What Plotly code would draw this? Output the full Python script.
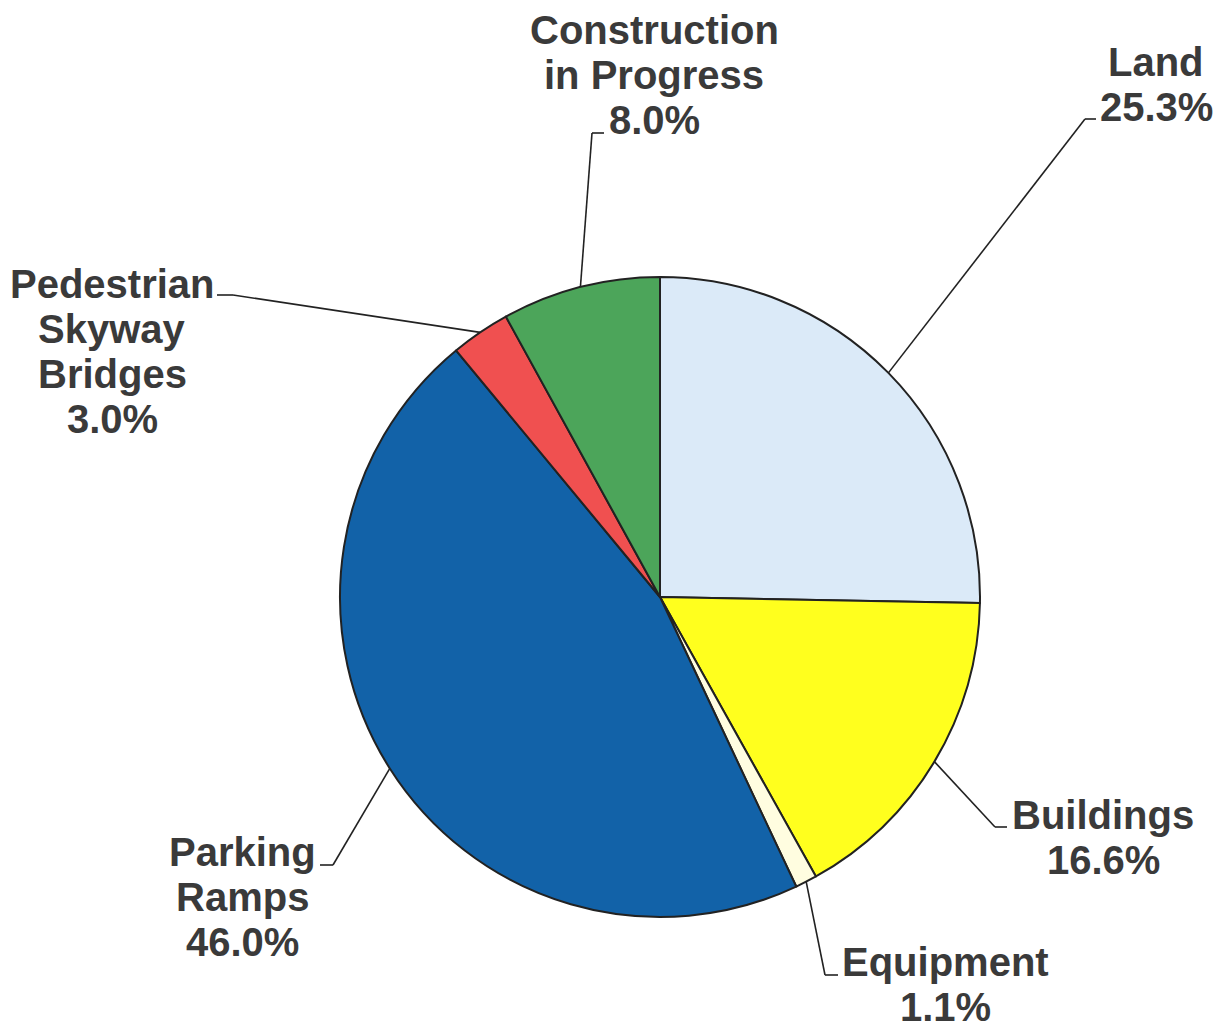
import math
import plotly.graph_objects as go

# ---------------- data ----------------
categories = ["Land", "Buildings", "Equipment", "Parking Ramps",
              "Pedestrian Skyway Bridges", "Construction in Progress"]
values = [25.3, 16.6, 1.1, 46.0, 3.0, 8.0]
label_lines = [["Land"], ["Buildings"], ["Equipment"], ["Parking", "Ramps"],
               ["Pedestrian", "Skyway", "Bridges"], ["Construction", "in Progress"]]

# ---------------- styles / layout ----------------
colors = ["#dbeaf8", "#ffff1e", "#fffde0", "#1262a8", "#f05050", "#4ca55a"]
PAGE_W, PAGE_H = 1222, 1036
OFF = 8                              # default page body margin
W, H = PAGE_W - OFF, PAGE_H - OFF
CX, CY, R = 660, 597, 320            # pie center / radius in page pixels
TEXT_COLOR = "#3a3a3a"
FONT = "Liberation Sans"
FONT_SIZE = 40
LINE_STEP = 45
# label text: center x, first-line center y (page pixels)
text_pos = [(1156, 62), (1103, 815), (945, 962), (242, 852), (112, 284), (654, 30)]
# leader: elbow x, elbow y, end x (page pixels)
leader_pos = [(1085, 119, 1096), (995, 827, 1007), (825, 975, 838),
              (333, 865, 320), (233, 295, 217), (592, 133, 604)]


def px(x):
    return (x - OFF) / W


def py(y):
    return 1 - (y - OFF) / H


fig = go.Figure(go.Pie(
    labels=categories,
    values=values,
    sort=False,
    direction="clockwise",
    rotation=0,
    marker=dict(colors=colors, line=dict(color="#222222", width=2)),
    textinfo="none",
    hoverinfo="label+percent",
    showlegend=False,
    domain=dict(x=[px(CX - R), px(CX + R)], y=[py(CY + R), py(CY - R)]),
))

total = sum(values)
annotations = []
shapes = []
cum = 0.0
for i, v in enumerate(values):
    mid = (cum + v / 2) / total * 2 * math.pi
    cum += v
    ex = CX + R * math.sin(mid)
    ey = CY - R * math.cos(mid)
    bx, by, endx = leader_pos[i]
    line_style = dict(color="#222222", width=1.6)
    shapes.append(dict(type="line", xref="paper", yref="paper",
                       x0=px(ex), y0=py(ey), x1=px(bx), y1=py(by), line=line_style))
    shapes.append(dict(type="line", xref="paper", yref="paper",
                       x0=px(bx), y0=py(by), x1=px(endx), y1=py(by), line=line_style))
    lines = label_lines[i] + [f"{v:.1f}%"]
    tx, ty = text_pos[i]
    for k, t in enumerate(lines):
        annotations.append(dict(
            x=px(tx), y=py(ty + k * LINE_STEP), xref="paper", yref="paper",
            text=f"<b>{t}</b>", showarrow=False, xanchor="center", yanchor="middle",
            font=dict(family=FONT, size=FONT_SIZE, color=TEXT_COLOR),
        ))

fig.update_layout(
    width=W, height=H,
    margin=dict(l=0, r=0, t=0, b=0),
    paper_bgcolor="white", plot_bgcolor="white",
    annotations=annotations, shapes=shapes,
)

fig.write_html("out.html")
